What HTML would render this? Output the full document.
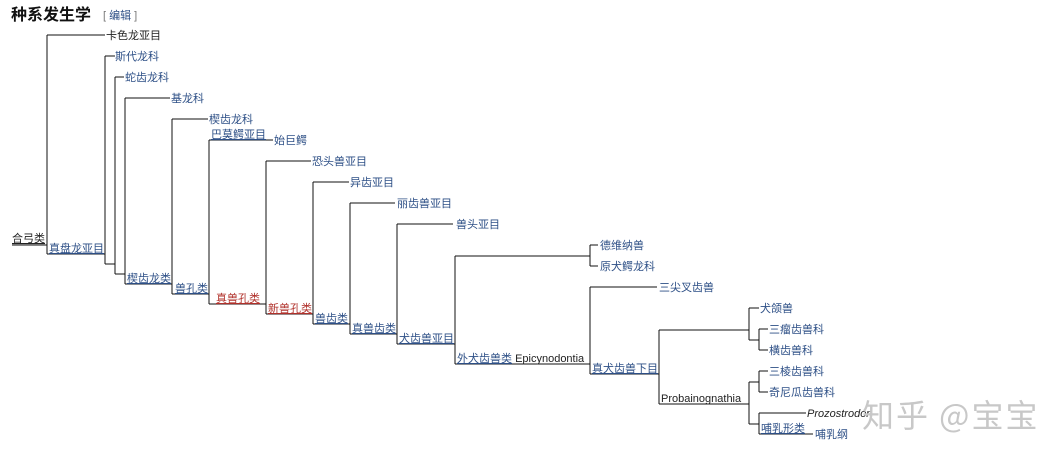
<!DOCTYPE html>
<html><head><meta charset="utf-8"><style>
html,body{margin:0;padding:0;background:#fff;width:1060px;height:458px;overflow:hidden}
svg{display:block}
text{font-family:"Liberation Sans","Noto Sans CJK SC",sans-serif;font-size:11px;fill:#2d4f86}
.k{fill:#222}
.r{fill:#b0302a}
.u{text-decoration:underline}
line{stroke:#111;stroke-width:1.2}
</style></head><body>
<svg width="1060" height="458" viewBox="0 0 1060 458" xmlns="http://www.w3.org/2000/svg">
<text x="11" y="20" style="font-size:16px;font-weight:bold;fill:#111">种系发生学</text>
<text x="103" y="19" style="font-size:11px;fill:#777">[ <tspan style="fill:#2d4f86">编辑</tspan> ]</text>
<g shape-rendering="crispEdges">
<line x1="12" y1="245" x2="47" y2="245"/>
<line x1="47" y1="35" x2="47" y2="254"/>
<line x1="47" y1="35" x2="105" y2="35"/>
<line x1="47" y1="254" x2="105" y2="254"/>
<line x1="105" y1="56" x2="105" y2="264"/>
<line x1="105" y1="56" x2="115" y2="56"/>
<line x1="105" y1="264" x2="115" y2="264"/>
<line x1="115" y1="77" x2="115" y2="274"/>
<line x1="115" y1="77" x2="124" y2="77"/>
<line x1="115" y1="274" x2="125" y2="274"/>
<line x1="125" y1="98" x2="125" y2="284"/>
<line x1="125" y1="98" x2="170" y2="98"/>
<line x1="125" y1="284" x2="172" y2="284"/>
<line x1="172" y1="119" x2="172" y2="294"/>
<line x1="172" y1="119" x2="208" y2="119"/>
<line x1="172" y1="294" x2="209" y2="294"/>
<line x1="209" y1="140" x2="209" y2="304"/>
<line x1="209" y1="140" x2="273" y2="140"/>
<line x1="209" y1="304" x2="266" y2="304"/>
<line x1="266" y1="161" x2="266" y2="314"/>
<line x1="266" y1="161" x2="311" y2="161"/>
<line x1="266" y1="314" x2="313" y2="314"/>
<line x1="313" y1="182" x2="313" y2="324"/>
<line x1="313" y1="182" x2="349" y2="182"/>
<line x1="313" y1="324" x2="350" y2="324"/>
<line x1="350" y1="203" x2="350" y2="334"/>
<line x1="350" y1="203" x2="395" y2="203"/>
<line x1="350" y1="334" x2="397" y2="334"/>
<line x1="397" y1="224" x2="397" y2="344"/>
<line x1="397" y1="224" x2="453" y2="224"/>
<line x1="397" y1="344" x2="455" y2="344"/>
<line x1="455" y1="256" x2="455" y2="364"/>
<line x1="455" y1="256" x2="590" y2="256"/>
<line x1="455" y1="364" x2="590" y2="364"/>
<line x1="590" y1="245" x2="590" y2="266"/>
<line x1="590" y1="245" x2="598" y2="245"/>
<line x1="590" y1="266" x2="598" y2="266"/>
<line x1="590" y1="287" x2="590" y2="374"/>
<line x1="590" y1="287" x2="657" y2="287"/>
<line x1="590" y1="374" x2="659" y2="374"/>
<line x1="659" y1="330" x2="659" y2="404"/>
<line x1="659" y1="330" x2="749" y2="330"/>
<line x1="659" y1="404" x2="749" y2="404"/>
<line x1="749" y1="308" x2="749" y2="340"/>
<line x1="749" y1="308" x2="759" y2="308"/>
<line x1="749" y1="340" x2="759" y2="340"/>
<line x1="759" y1="329" x2="759" y2="350"/>
<line x1="759" y1="329" x2="768" y2="329"/>
<line x1="759" y1="350" x2="768" y2="350"/>
<line x1="749" y1="382" x2="749" y2="424"/>
<line x1="749" y1="382" x2="759" y2="382"/>
<line x1="749" y1="424" x2="759" y2="424"/>
<line x1="759" y1="371" x2="759" y2="392"/>
<line x1="759" y1="371" x2="768" y2="371"/>
<line x1="759" y1="392" x2="768" y2="392"/>
<line x1="759" y1="413" x2="759" y2="434"/>
<line x1="759" y1="413" x2="806" y2="413"/>
<line x1="759" y1="434" x2="813" y2="434"/>
</g>
<text x="106" y="39" class="k">卡色龙亚目</text>
<text x="115" y="60">斯代龙科</text>
<text x="125" y="81">蛇齿龙科</text>
<text x="171" y="102">基龙科</text>
<text x="209" y="123">楔齿龙科</text>
<text x="274" y="144">始巨鳄</text>
<text x="312" y="165">恐头兽亚目</text>
<text x="350" y="186">异齿亚目</text>
<text x="397" y="207">丽齿兽亚目</text>
<text x="456" y="228">兽头亚目</text>
<text x="600" y="249">德维纳兽</text>
<text x="600" y="270">原犬鳄龙科</text>
<text x="659" y="291">三尖叉齿兽</text>
<text x="760" y="312">犬颌兽</text>
<text x="769" y="333">三瘤齿兽科</text>
<text x="769" y="354">横齿兽科</text>
<text x="769" y="375">三棱齿兽科</text>
<text x="769" y="396">奇尼瓜齿兽科</text>
<text x="807" y="417" class="k" style="font-style:italic">Prozostrodon</text>
<text x="815" y="438">哺乳纲</text>
<text x="12" y="242" class="k u">合弓类</text>
<text x="49" y="252" class="u">真盘龙亚目</text>
<text x="127" y="282" class="u">楔齿龙类</text>
<text x="175" y="292" class="u">兽孔类</text>
<text x="211" y="138" class="u">巴莫鳄亚目</text>
<text x="216" y="302" class="r u">真兽孔类</text>
<text x="268" y="312" class="r u">新兽孔类</text>
<text x="315" y="322" class="u">兽齿类</text>
<text x="352" y="332" class="u">真兽齿类</text>
<text x="399" y="342" class="u">犬齿兽亚目</text>
<text x="457" y="362"><tspan class="u">外犬齿兽类</tspan> <tspan class="k">Epicynodontia</tspan></text>
<text x="592" y="372" class="u">真犬齿兽下目</text>
<text x="661" y="402" class="k">Probainognathia</text>
<text x="761" y="432" class="u">哺乳形类</text>
<text x="862" y="427" style="font-size:32px;letter-spacing:2px;fill:#c8c8c8;font-family:'Noto Sans CJK SC',sans-serif">知乎 @宝宝</text>
</svg>
</body></html>
